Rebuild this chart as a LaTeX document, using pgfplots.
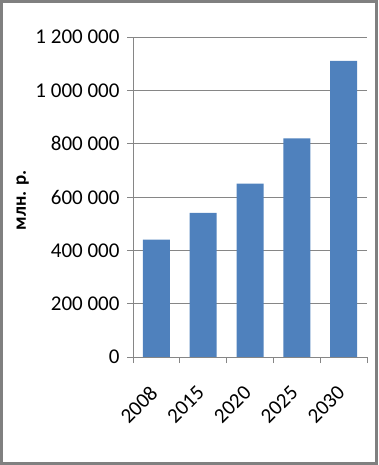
\documentclass[border=0pt]{standalone}
\usepackage{pgfplots}
\pgfplotsset{compat=1.18}
\usepackage{fontspec}
\setmainfont{Carlito}
\definecolor{barblue}{HTML}{4F81BD}
\definecolor{gridgray}{HTML}{868686}
\definecolor{framegray}{HTML}{808080}
\begin{document}
\begin{tikzpicture}[x=1pt,y=1pt]
\useasboundingbox (0,0) rectangle (378,465);
\draw[draw=framegray, line width=2.5pt] (1.5,1.5) rectangle (376.25,463.5);
\begin{axis}[
  at={(133pt,108pt)}, anchor=south west,
  scale only axis, width=234pt, height=320pt,
  xmin=-0.5, xmax=4.5, ymin=0, ymax=1200000,
  scaled y ticks=false,
  ytick={0,200000,400000,600000,800000,1000000,1200000},
  yticklabels={0,200 000,400 000,600 000,800 000,1 000 000,1 200 000},
  xtick={0,1,2,3,4},
  xticklabels={2008,2015,2020,2025,2030},
  minor xtick={-0.5,0.5,1.5,2.5,3.5,4.5},
  major x tick style={draw=none},
  minor x tick style={draw=gridgray, line width=0.8pt},
  minor tick length=6pt,
  major tick length=6pt,
  tick align=outside,
  tick pos=left,
  ymajorgrids,
  grid style={draw=gridgray, line width=0.8pt},
  y tick style={draw=gridgray, line width=0.8pt},
  axis x line*=bottom,
  axis y line*=left,
  axis line style={draw=gridgray, line width=0.8pt},
  ticklabel style={font=\fontsize{21}{24}\selectfont},
  yticklabel style={xshift=-4pt},
  xticklabel style={xshift=0pt, yshift=-24pt, rotate=45, anchor=east},
  ylabel={млн. р.},
  ylabel style={at={(axis description cs:-0.472,0.49)}, anchor=center, font=\bfseries\fontsize{19}{22}\selectfont},
  ybar, bar width=27pt,
]
\addplot[fill=barblue, draw=none] coordinates {(0,440000) (1,540000) (2,650000) (3,820000) (4,1110000)};
\end{axis}
\end{tikzpicture}
\end{document}
